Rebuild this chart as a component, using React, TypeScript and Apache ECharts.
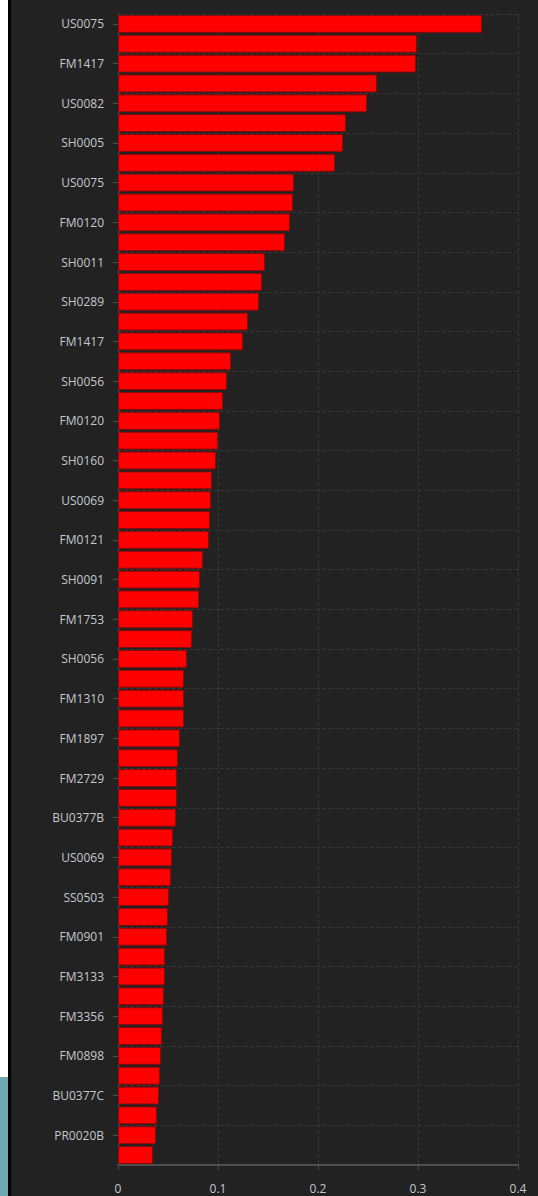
import React, { useEffect, useRef } from "react";
import * as echarts from "echarts";

const categories: string[] = [
  "US0075", "SH0022", "FM1417", "FM1310B", "US0082", "SH0019", "SH0005", "FM0112",
  "US0075", "SH0073", "FM0120", "US0041", "SH0011", "FM0455", "SH0289", "SH0092",
  "FM1417", "US0013", "SH0056", "FM2201", "FM0120", "SH0177", "SH0160", "FM0765",
  "US0069", "SH0233", "FM0121", "FM1506", "SH0091", "US0104", "FM1753", "SH0301",
  "SH0056", "FM0877", "FM1310", "SH0148", "FM1897", "US0052", "FM2729", "SH0064",
  "BU0377B", "FM3011", "US0069", "SH0125", "SS0503", "FM1122", "FM0901", "SH0210",
  "FM3133", "US0087", "FM3356", "SH0038", "FM0898", "FM2488", "BU0377C", "SS0417",
  "PR0020B", "FM0333",
];

const values: number[] = [
  0.364, 0.299, 0.298, 0.259, 0.249, 0.228, 0.225, 0.217,
  0.176, 0.175, 0.172, 0.167, 0.147, 0.144, 0.141, 0.130,
  0.125, 0.113, 0.109, 0.105, 0.102, 0.100, 0.098, 0.094,
  0.093, 0.092, 0.091, 0.085, 0.082, 0.081, 0.075, 0.074,
  0.069, 0.066, 0.066, 0.066, 0.062, 0.060, 0.059, 0.059,
  0.058, 0.055, 0.054, 0.053, 0.051, 0.050, 0.049, 0.047,
  0.047, 0.046, 0.045, 0.044, 0.043, 0.042, 0.041, 0.039,
  0.038, 0.035,
];

const xTicks = { min: 0, max: 0.4, interval: 0.1 };

export default function App() {
  const ref = useRef<HTMLDivElement>(null);
  useEffect(() => {
    if (!ref.current) return;
    const chart = echarts.init(ref.current, null, { renderer: "svg" });
    const font = "'Open Sans', 'Noto Sans', sans-serif";
    chart.setOption({
      animation: false,
      backgroundColor: "#222222",
      textStyle: { fontFamily: font },
      grid: { left: 107, right: 20, top: 14, bottom: 31, containLabel: false },
      xAxis: {
        type: "value",
        min: xTicks.min,
        max: xTicks.max,
        interval: xTicks.interval,
        axisLine: { show: true, lineStyle: { color: "#4e4e4e", width: 2 } },
        axisTick: { show: true, length: 5, lineStyle: { color: "#4e4e4e" } },
        axisLabel: { color: "#c4c8cc", fontSize: 12, fontFamily: font, margin: 17 },
        splitLine: { show: true, lineStyle: { color: "#363636", type: "dashed" } },
      },
      yAxis: {
        type: "category",
        data: categories,
        inverse: true,
        axisLine: { show: true, lineStyle: { color: "#4e4e4e" } },
        axisTick: { show: true, length: 5, alignWithLabel: true, interval: 1, lineStyle: { color: "#4e4e4e" } },
        axisLabel: { color: "#c4c8cc", fontSize: 12, fontFamily: font, interval: 1, margin: 14 },
        splitLine: { show: true, interval: 1, lineStyle: { color: "#363636", type: "dashed" } },
      },
      series: [
        {
          type: "bar",
          data: values,
          barCategoryGap: "10%",
          itemStyle: { color: "#ff0000", borderColor: "#8a0a0a", borderWidth: 1 },
        },
      ],
    });
    return () => chart.dispose();
  }, []);
  return (
    <>
      <div
        style={{
          position: "fixed",
          left: 0,
          top: 1077,
          width: 8,
          height: 119,
          background: "#6fa8b4",
        }}
      />
      <div
        style={{
          position: "fixed",
          left: 8,
          top: 0,
          width: 530,
          height: 1196,
          boxSizing: "border-box",
          borderLeft: "3px solid #000",
          background: "#222222",
        }}
      >
        <div ref={ref} style={{ width: 527, height: 1196 }} />
      </div>
    </>
  );
}
